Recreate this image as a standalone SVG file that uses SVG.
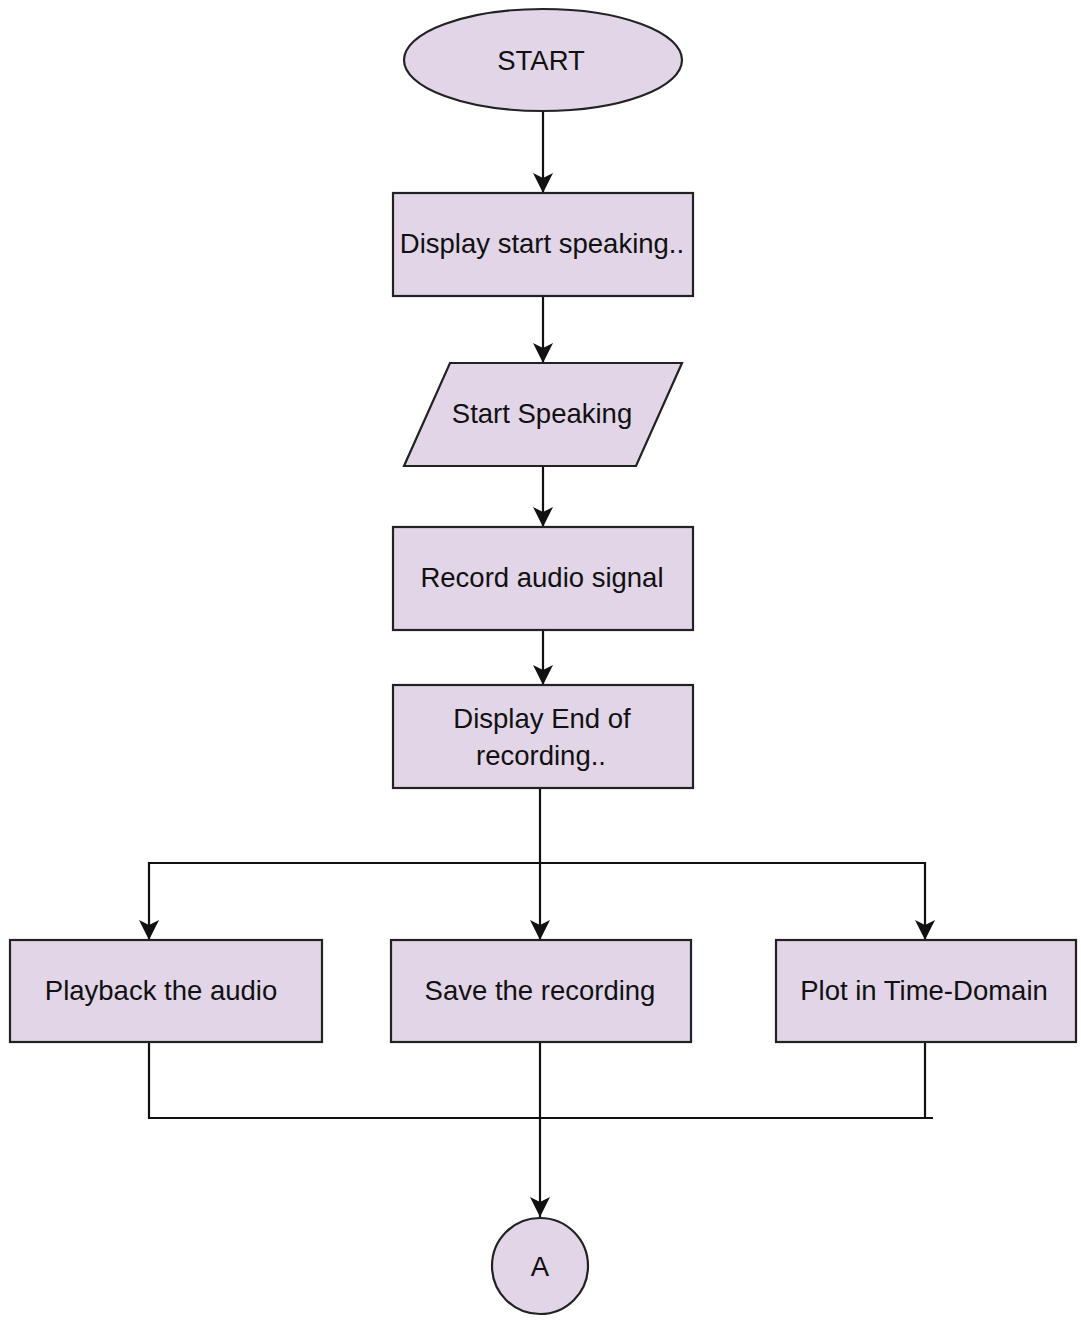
<svg xmlns="http://www.w3.org/2000/svg" width="1081" height="1327" viewBox="0 0 1081 1327">
<style>
.n{fill:#e1d5e7;stroke:#222;stroke-width:2.2}
.t{font-family:"Liberation Sans",Arial,sans-serif;font-size:27.5px;fill:#111;text-anchor:middle}
.c{fill:none;stroke:#111;stroke-width:2.2}
</style>
<defs>
<marker id="ah" markerUnits="userSpaceOnUse" viewBox="0 0 20 20" refX="20" refY="10" markerWidth="20" markerHeight="20" orient="auto">
<path d="M0,0 L20,10 L0,20 L5,10 z" fill="#111"/>
</marker>
</defs>
<rect width="1081" height="1327" fill="#fff"/>
<g id="connectors">
<path class="c" d="M543,111 V193" marker-end="url(#ah)"/>
<path class="c" d="M543,296 V363" marker-end="url(#ah)"/>
<path class="c" d="M543,466 V527" marker-end="url(#ah)"/>
<path class="c" d="M543,630 V685" marker-end="url(#ah)"/>
<path class="c" d="M540,788 V940" marker-end="url(#ah)"/>
<path class="c" d="M540,863 H149 V940" marker-end="url(#ah)"/>
<path class="c" d="M540,863 H925 V940" marker-end="url(#ah)"/>
<path class="c" d="M149,1042 V1118 H933"/>
<path class="c" d="M925,1042 V1118"/>
<path class="c" d="M540,1042 V1217" marker-end="url(#ah)"/>
</g>
<g id="start">
<ellipse class="n" cx="543" cy="60" rx="139" ry="51"/>
<text class="t" x="541" y="70">START</text>
</g>
<g id="display-start">
<rect class="n" x="393" y="193" width="300" height="103"/>
<text class="t" x="542" y="253">Display start speaking..</text>
</g>
<g id="start-speaking">
<polygon class="n" points="450,363 682,363 636,466 404,466"/>
<text class="t" x="542" y="423">Start Speaking</text>
</g>
<g id="record">
<rect class="n" x="393" y="527" width="300" height="103"/>
<text class="t" x="542" y="587">Record audio signal</text>
</g>
<g id="display-end">
<rect class="n" x="393" y="685" width="300" height="103"/>
<text class="t" x="542" y="728">Display End of</text>
<text class="t" x="541" y="765">recording..</text>
</g>
<g id="playback">
<rect class="n" x="10" y="940" width="312" height="102"/>
<text class="t" x="161" y="1000">Playback the audio</text>
</g>
<g id="save">
<rect class="n" x="391" y="940" width="300" height="102"/>
<text class="t" x="540" y="1000">Save the recording</text>
</g>
<g id="plot">
<rect class="n" x="776" y="940" width="300" height="102"/>
<text class="t" x="924" y="1000">Plot in Time-Domain</text>
</g>
<g id="connector-a">
<circle class="n" cx="540" cy="1266" r="48"/>
<text class="t" x="540" y="1276">A</text>
</g>
</svg>
